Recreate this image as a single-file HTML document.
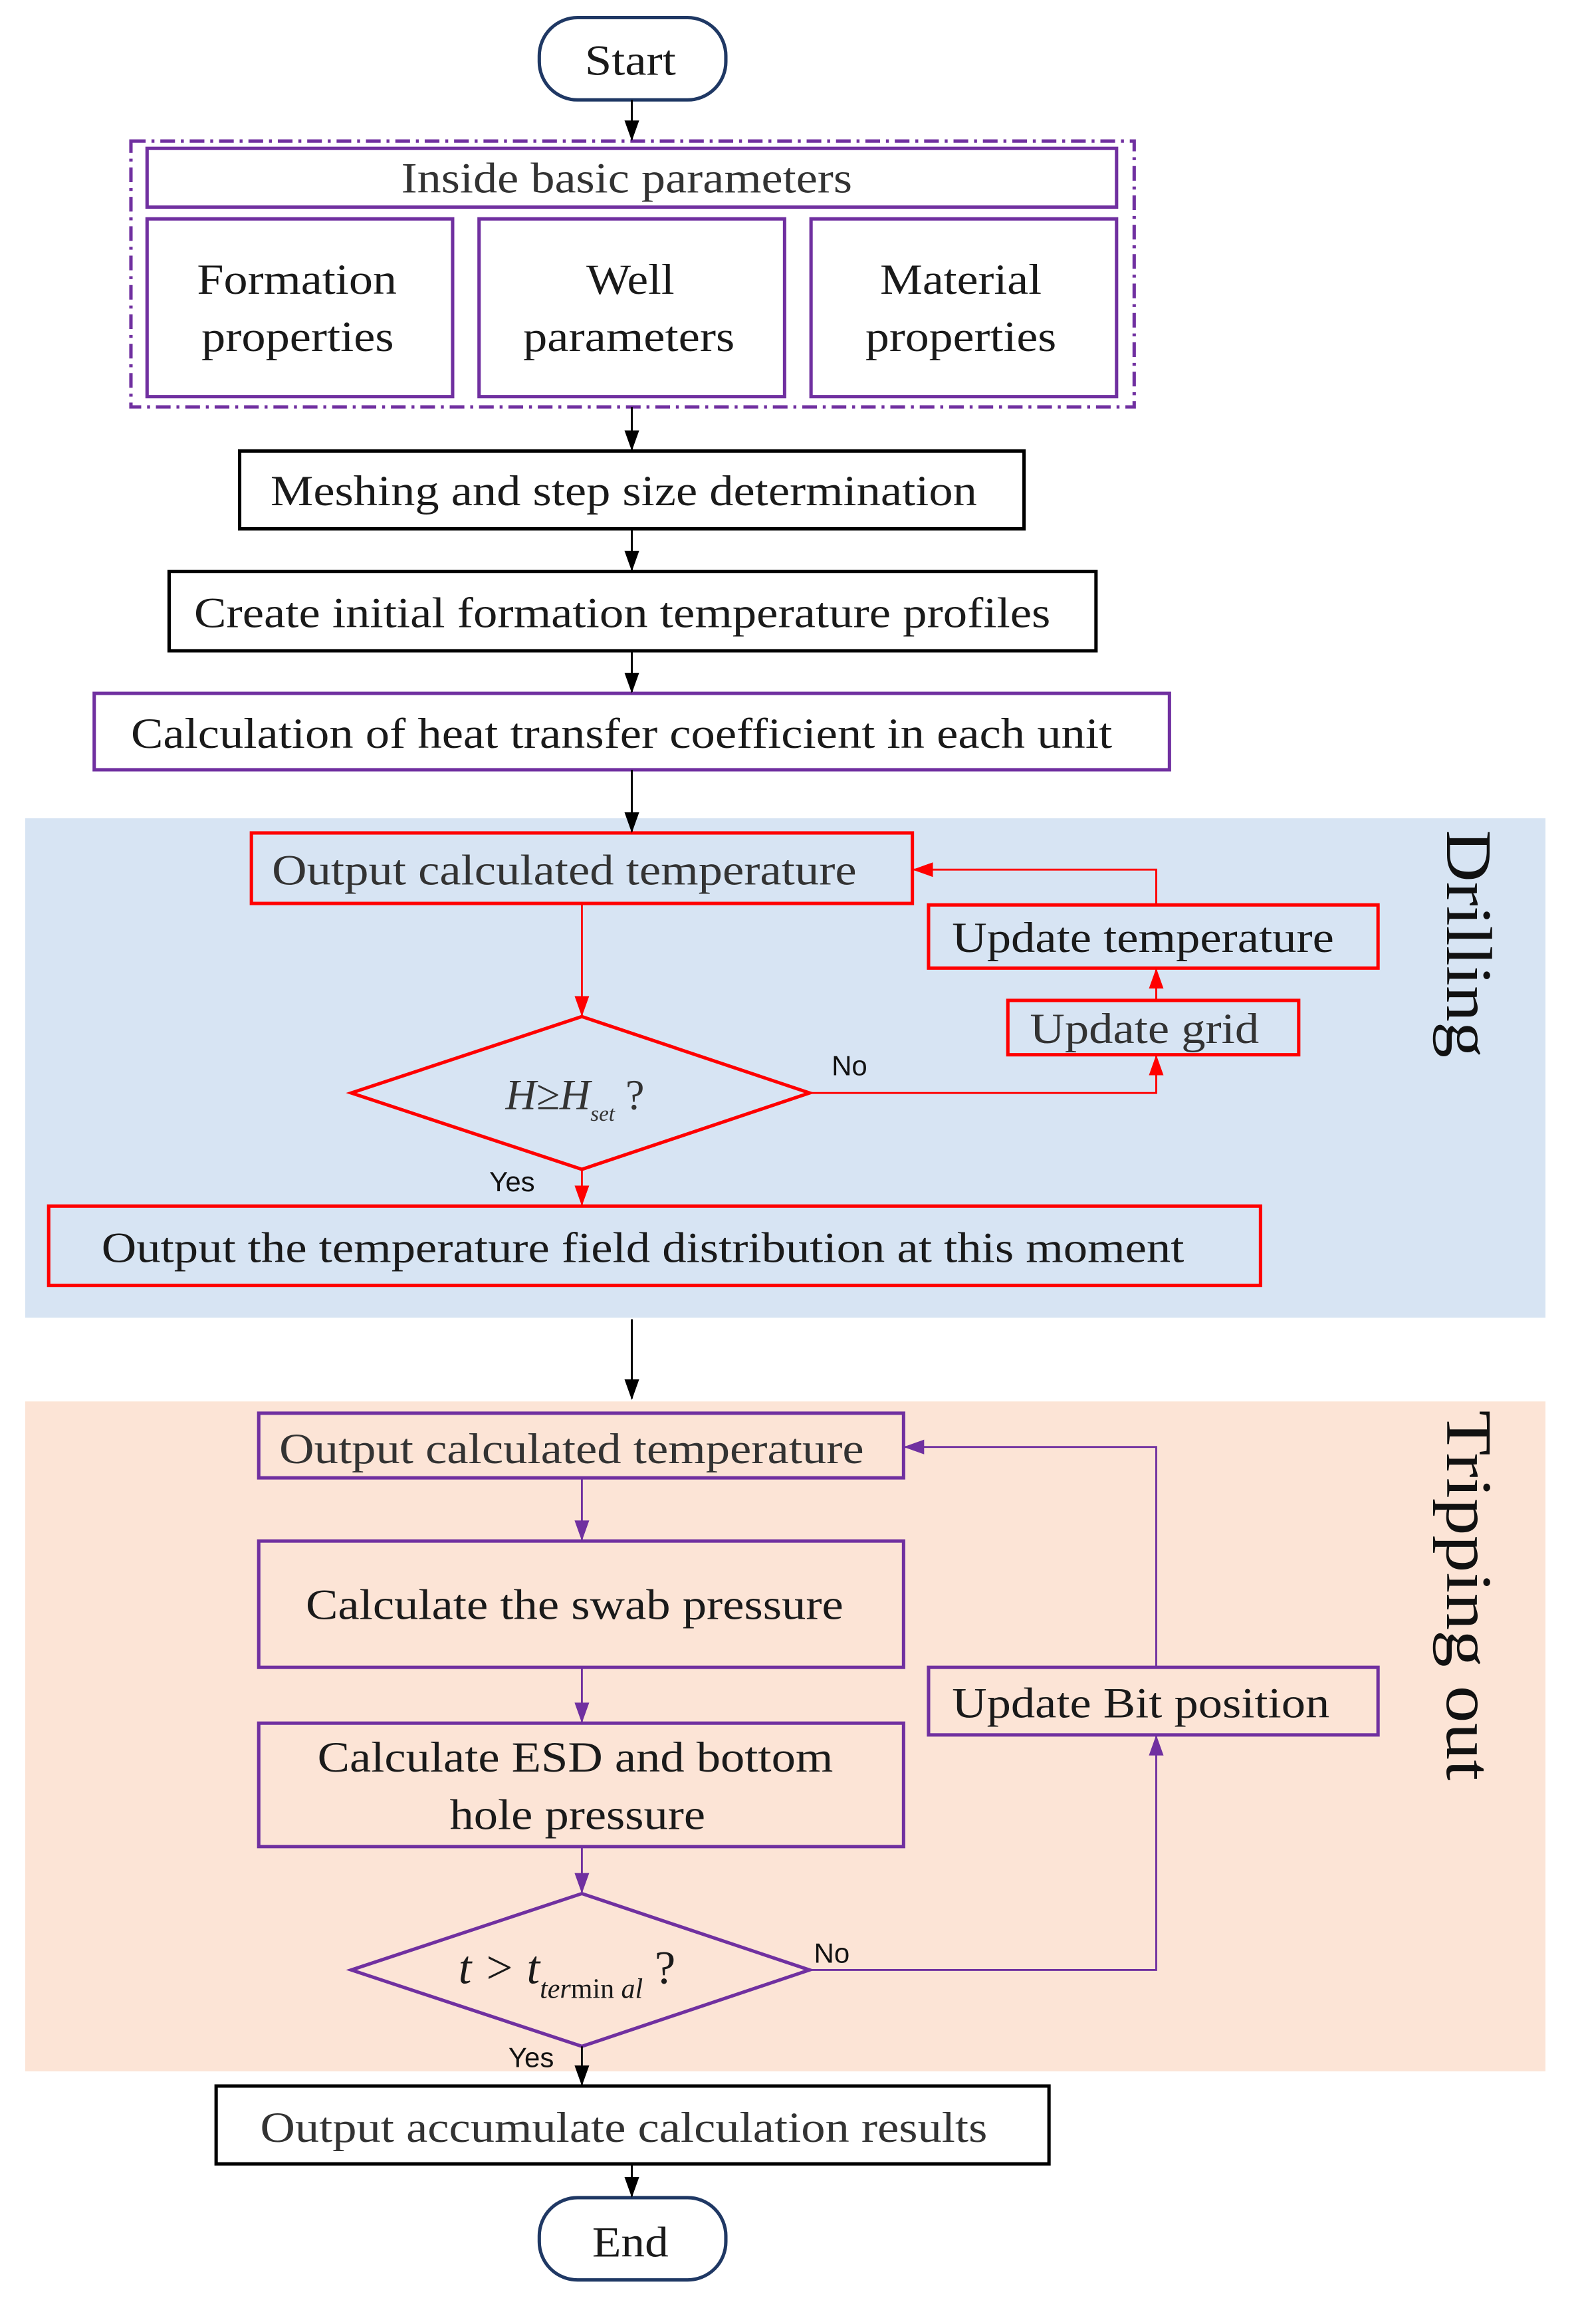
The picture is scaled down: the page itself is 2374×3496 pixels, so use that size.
<!DOCTYPE html>
<html><head><meta charset="utf-8"><style>html,body{margin:0;padding:0;background:#fff}svg{display:block}</style></head>
<body>
<svg width="2374" height="3496" viewBox="0 0 1074 1582" xmlns="http://www.w3.org/2000/svg" font-family="Liberation Serif, serif">
<defs>
<marker id="ak" markerWidth="14" markerHeight="12" refX="13" refY="6" orient="auto" markerUnits="userSpaceOnUse"><path d="M0,1 L14,6 L0,11 z" fill="#000"/></marker>
<marker id="ar" markerWidth="14" markerHeight="12" refX="13" refY="6" orient="auto" markerUnits="userSpaceOnUse"><path d="M0,1 L14,6 L0,11 z" fill="#f00"/></marker>
<marker id="ap" markerWidth="14" markerHeight="12" refX="13" refY="6" orient="auto" markerUnits="userSpaceOnUse"><path d="M0,1 L14,6 L0,11 z" fill="#7030A0"/></marker>
</defs>
<rect x="17" y="557" width="1035" height="340" fill="#D7E4F3"/>
<rect x="17" y="954" width="1035" height="456" fill="#FCE4D6"/>

<g fill="none" stroke-width="2.3">
<rect x="367" y="12" width="127" height="56" rx="26" stroke="#1F3864"/>
<rect x="367" y="1496" width="127" height="56" rx="26" stroke="#1F3864"/>
<rect x="89" y="96" width="683" height="181" stroke="#7030A0" stroke-dasharray="10,4,2,4"/>
<rect x="100" y="101" width="660" height="40" stroke="#7030A0"/>
<rect x="100" y="149" width="208" height="121" stroke="#7030A0"/>
<rect x="326" y="149" width="208" height="121" stroke="#7030A0"/>
<rect x="552" y="149" width="208" height="121" stroke="#7030A0"/>
<rect x="163" y="307" width="534" height="53" stroke="#000"/>
<rect x="115" y="389" width="631" height="54" stroke="#000"/>
<rect x="64" y="472" width="732" height="52" stroke="#7030A0"/>
<rect x="171" y="567" width="450" height="48" stroke="#f00"/>
<rect x="632" y="616" width="306" height="43" stroke="#f00"/>
<rect x="686" y="681" width="198" height="37" stroke="#f00"/>
<polygon points="396,692 551,744 396,796 239,744" stroke="#f00"/>
<rect x="33" y="821" width="825" height="54" stroke="#f00"/>
<rect x="176" y="962" width="439" height="44" stroke="#7030A0"/>
<rect x="176" y="1049" width="439" height="86" stroke="#7030A0"/>
<rect x="176" y="1173" width="439" height="84" stroke="#7030A0"/>
<rect x="632" y="1135" width="306" height="46" stroke="#7030A0"/>
<polygon points="396,1289 551,1341 396,1393 239,1341" stroke="#7030A0"/>
<rect x="147" y="1420" width="567" height="53" stroke="#000"/>
</g>

<g fill="none" stroke-width="1.3">
<line x1="430" y1="68" x2="430" y2="95" stroke="#000" marker-end="url(#ak)"/>
<line x1="430" y1="277" x2="430" y2="306" stroke="#000" marker-end="url(#ak)"/>
<line x1="430" y1="360" x2="430" y2="388" stroke="#000" marker-end="url(#ak)"/>
<line x1="430" y1="443" x2="430" y2="471" stroke="#000" marker-end="url(#ak)"/>
<line x1="430" y1="524" x2="430" y2="566" stroke="#000" marker-end="url(#ak)"/>
<line x1="396" y1="615" x2="396" y2="691" stroke="#f00" marker-end="url(#ar)"/>
<polyline points="787,616 787,592 622,592" stroke="#f00" marker-end="url(#ar)"/>
<line x1="787" y1="681" x2="787" y2="660" stroke="#f00" marker-end="url(#ar)"/>
<polyline points="551,744 787,744 787,719" stroke="#f00" marker-end="url(#ar)"/>
<line x1="396" y1="796" x2="396" y2="820" stroke="#f00" marker-end="url(#ar)"/>
<line x1="430" y1="898" x2="430" y2="952" stroke="#000" marker-end="url(#ak)"/>
<polyline points="787,1135 787,985 616,985" stroke="#7030A0" marker-end="url(#ap)"/>
<line x1="396" y1="1006" x2="396" y2="1048" stroke="#7030A0" marker-end="url(#ap)"/>
<line x1="396" y1="1135" x2="396" y2="1172" stroke="#7030A0" marker-end="url(#ap)"/>
<line x1="396" y1="1257" x2="396" y2="1288" stroke="#7030A0" marker-end="url(#ap)"/>
<polyline points="551,1341 787,1341 787,1182" stroke="#7030A0" marker-end="url(#ap)"/>
<line x1="396" y1="1393" x2="396" y2="1419" stroke="#000" marker-end="url(#ak)"/>
<line x1="430" y1="1473" x2="430" y2="1495" stroke="#000" marker-end="url(#ak)"/>
</g>

<g font-size="29" fill="#1a1a1a">
<text x="398" y="51" textLength="62" lengthAdjust="spacingAndGlyphs">Start</text>
<text x="273" y="131" textLength="307" lengthAdjust="spacingAndGlyphs" fill="#333">Inside basic parameters</text>
<text x="134" y="200" textLength="136" lengthAdjust="spacingAndGlyphs">Formation</text>
<text x="137" y="239" textLength="131" lengthAdjust="spacingAndGlyphs">properties</text>
<text x="399" y="200" textLength="60" lengthAdjust="spacingAndGlyphs">Well</text>
<text x="356" y="239" textLength="144" lengthAdjust="spacingAndGlyphs">parameters</text>
<text x="599" y="200" textLength="110" lengthAdjust="spacingAndGlyphs">Material</text>
<text x="589" y="239" textLength="130" lengthAdjust="spacingAndGlyphs">properties</text>
<text x="184" y="344" textLength="481" lengthAdjust="spacingAndGlyphs">Meshing and step size determination</text>
<text x="132" y="427" textLength="583" lengthAdjust="spacingAndGlyphs">Create initial formation temperature profiles</text>
<text x="89" y="509" textLength="668" lengthAdjust="spacingAndGlyphs">Calculation of heat transfer coefficient in each unit</text>
<text x="185" y="602" textLength="398" lengthAdjust="spacingAndGlyphs" fill="#333">Output calculated temperature</text>
<text x="648" y="648" textLength="260" lengthAdjust="spacingAndGlyphs">Update temperature</text>
<text x="701" y="710" textLength="156" lengthAdjust="spacingAndGlyphs" fill="#333">Update grid</text>
<text x="344" y="755" font-style="italic" fill="#333">H≥H<tspan font-size="15" dy="8">set</tspan><tspan dy="-8" font-style="normal"> ?</tspan></text>
<text x="69" y="859" textLength="737" lengthAdjust="spacingAndGlyphs">Output the temperature field distribution at this moment</text>
<text x="190" y="996" textLength="398" lengthAdjust="spacingAndGlyphs" fill="#333">Output calculated temperature</text>
<text x="208" y="1102" textLength="366" lengthAdjust="spacingAndGlyphs">Calculate the swab pressure</text>
<text x="216" y="1206" textLength="351" lengthAdjust="spacingAndGlyphs">Calculate ESD and bottom</text>
<text x="306" y="1245" textLength="174" lengthAdjust="spacingAndGlyphs">hole pressure</text>
<text x="648" y="1169" textLength="257" lengthAdjust="spacingAndGlyphs">Update Bit position</text>
<text x="312" y="1350" font-size="32" font-style="italic">t &gt; t<tspan font-size="19" dy="10">ter</tspan><tspan font-size="19" font-style="normal">min</tspan><tspan font-size="19"> al</tspan><tspan font-size="32" font-style="normal" dy="-10"> ?</tspan></text>
<text x="177" y="1458" textLength="495" lengthAdjust="spacingAndGlyphs" fill="#333">Output accumulate calculation results</text>
<text x="403" y="1536" textLength="52" lengthAdjust="spacingAndGlyphs">End</text>
</g>
<g font-family="Liberation Sans, sans-serif" font-size="19" fill="#111">
<text x="566" y="732">No</text>
<text x="333" y="811">Yes</text>
<text x="554" y="1336">No</text>
<text x="346" y="1407">Yes</text>
</g>
<g font-size="44" fill="#111">
<text transform="translate(985,565) rotate(90)" textLength="155" lengthAdjust="spacingAndGlyphs">Drilling</text>
<text transform="translate(985,960) rotate(90)" textLength="252" lengthAdjust="spacingAndGlyphs">Tripping out</text>
</g>
</svg>
</body></html>
